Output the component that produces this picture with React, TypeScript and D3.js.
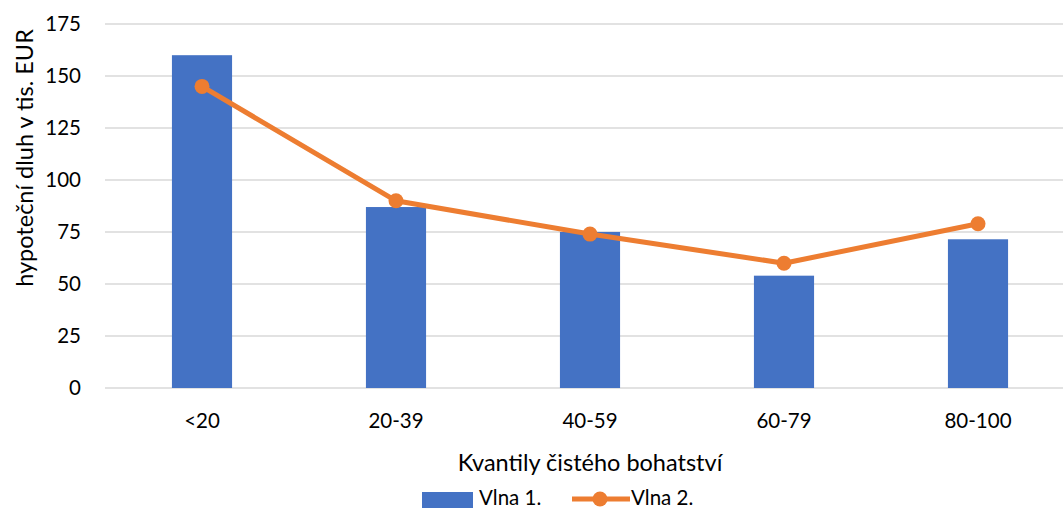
import React from "react";
import * as d3 from "d3";

const categories = ["<20", "20-39", "40-59", "60-79", "80-100"];
const vlna1 = [160, 87, 75, 54, 71.5];
const vlna2 = [145, 90, 74, 60, 79];
const yTicks = [0, 25, 50, 75, 100, 125, 150, 175];

const W = 1063;
const H = 508;
const FONT = "Lato, Carlito, 'Liberation Sans', sans-serif";

export default function App() {
  const x = d3.scaleBand<string>().domain(categories).range([105, 1075]).paddingInner(0).paddingOuter(0);
  const y = d3.scaleLinear().domain([0, 175]).range([388, 24]);
  const barW = x.bandwidth() * 0.31;
  const cx = (c: string) => (x(c) as number) + x.bandwidth() / 2;
  const line = d3
    .line<number>()
    .x((_, i) => cx(categories[i]))
    .y((d) => y(d));

  return (
    <svg
      width={W}
      height={H}
      style={{ position: "absolute", left: 0, top: 0, background: "#fff" }}
      fontFamily={FONT}
    >
      <rect x={0} y={0} width={W} height={H} fill="#fff" />
      {yTicks.map((t) => (
        <g key={t}>
          <line x1={105} x2={W} y1={y(t)} y2={y(t)} stroke="#D9D9D9" strokeWidth={1.5} />
          <text x={81} y={y(t)} dy="0.36em" textAnchor="end" fontSize={20.5} fill="#000">
            {t}
          </text>
        </g>
      ))}
      {vlna1.map((v, i) => (
        <rect
          key={i}
          x={cx(categories[i]) - barW / 2}
          y={y(v)}
          width={barW}
          height={y(0) - y(v)}
          fill="#4472C4"
        />
      ))}
      <path d={line(vlna2) || ""} fill="none" stroke="#ED7D31" strokeWidth={5} strokeLinejoin="round" />
      {vlna2.map((v, i) => (
        <circle key={i} cx={cx(categories[i])} cy={y(v)} r={7.5} fill="#ED7D31" />
      ))}
      {categories.map((c) => (
        <text key={c} x={cx(c)} y={428} textAnchor="middle" fontSize={20.5} fill="#000">
          {c}
        </text>
      ))}
      <text x={590} y={471} textAnchor="middle" fontSize={23.5} fill="#000">
        Kvantily čistého bohatství
      </text>
      <text
        transform={`translate(33,158) rotate(-90)`}
        textAnchor="middle"
        fontSize={23.5}
        fill="#000"
      >
        hypoteční dluh v tis. EUR
      </text>
      <rect x={422} y={492} width={51} height={16} fill="#4472C4" />
      <text x={479} y={505} fontSize={20.5} fill="#000">
        Vlna 1.
      </text>
      <line x1={572} x2={630} y1={499} y2={499} stroke="#ED7D31" strokeWidth={5} />
      <circle cx={600} cy={499} r={7.5} fill="#ED7D31" />
      <text x={631} y={505} fontSize={20.5} fill="#000">
        Vlna 2.
      </text>
    </svg>
  );
}
